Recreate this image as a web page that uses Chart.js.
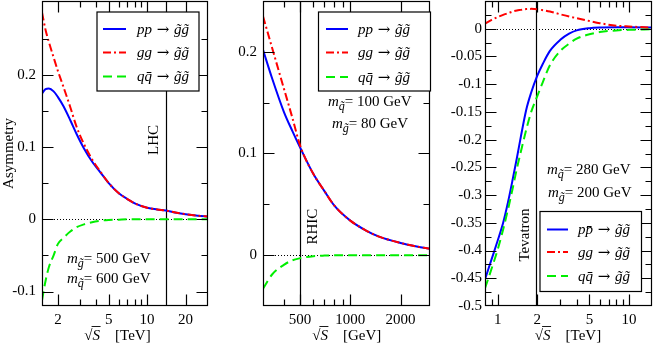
<!DOCTYPE html>
<html><head><meta charset="utf-8">
<script src="https://cdn.jsdelivr.net/npm/chart.js@4"></script>
<style>
html,body{margin:0;padding:0;background:#fff;width:654px;height:346px;overflow:hidden}
canvas{position:absolute;top:0}
</style></head><body>
<canvas id="c1" style="left:0px" width="215" height="346"></canvas>
<canvas id="c2" style="left:215px" width="220" height="346"></canvas>
<canvas id="c3" style="left:435px" width="219" height="346"></canvas>
<script>
// ---------- DATA ----------
// LHC panel (sqrt(S) in TeV)
const lhcSqrtS = [1.5,1.6,1.7,1.85,2,2.2,2.5,2.8,3.2,3.7,4.3,5,6,7,8,10,12,14,17,20,25,30];
const lhcPP    = [0.174,0.180,0.181,0.177,0.169,0.157,0.137,0.118,0.098,0.080,0.065,0.050,0.036,0.028,0.022,0.016,0.0135,0.0122,0.009,0.007,0.005,0.004];
const lhcGG    = [0.286,0.262,0.245,0.224,0.205,0.184,0.155,0.128,0.104,0.083,0.066,0.050,0.036,0.028,0.022,0.016,0.0135,0.0122,0.009,0.007,0.005,0.004];
const lhcQQ    = [-0.112,-0.085,-0.066,-0.050,-0.034,-0.026,-0.017,-0.011,-0.007,-0.004,-0.002,-0.001,-0.0005,0,0,0,0,0,0,0,0,0];
const lhcXTicks = [2,5,10,20];
const lhcXMinor = [3,4,6,7,8,9];
const lhcYTicks = [-0.1,0,0.1,0.2];
const lhcYLabels = ['-0.1','0','0.1','0.2'];
const lhcYMinor = [-0.05,0.05,0.15,0.25];

// RHIC panel (sqrt(S) in GeV)
const rhicSqrtS = [300,340,400,450,500,600,700,800,1000,1250,1500,2000,2500,3000];
const rhicPP    = [0.202,0.174,0.141,0.122,0.106,0.080,0.063,0.049,0.034,0.024,0.018,0.012,0.0085,0.0062];
const rhicGG    = [0.235,0.204,0.164,0.135,0.108,0.080,0.063,0.049,0.034,0.024,0.018,0.012,0.0085,0.0062];
const rhicQQ    = [-0.033,-0.019,-0.0095,-0.005,-0.003,-0.001,-0.0004,-0.0002,0,0,0,0,0,0];
const rhicXTicks = [500,1000,2000];
const rhicXMinor = [400,600,700,800,900];
const rhicYTicks = [0,0.1,0.2];
const rhicYLabels = ['0','0.1','0.2'];
const rhicYMinor = [0.05,0.15];

// Tevatron panel (sqrt(S) in TeV)
const tevSqrtS = [0.8,0.9,1.0,1.1,1.2,1.3,1.4,1.5,1.65,1.8,2.0,2.2,2.5,3.0,3.5,4.0,5.0,6.0,8.0,10,15];
const tevPP    = [-0.452,-0.415,-0.382,-0.350,-0.312,-0.272,-0.233,-0.195,-0.146,-0.115,-0.085,-0.064,-0.040,-0.020,-0.009,-0.003,0.001,0.0022,0.0026,0.0025,0.0022];
const tevGG    = [0.009,0.016,0.021,0.025,0.028,0.031,0.033,0.034,0.0355,0.0358,0.035,0.0335,0.031,0.026,0.022,0.019,0.014,0.010,0.0055,0.004,0.002];
const tevQQ    = [-0.468,-0.432,-0.398,-0.362,-0.325,-0.288,-0.252,-0.222,-0.182,-0.150,-0.122,-0.097,-0.066,-0.040,-0.027,-0.018,-0.010,-0.006,-0.003,-0.002,-0.001];
const tevXTicks = [1,2,5,10];
const tevXMinor = [0.9,3,4,6,7,8,9];
const tevYTicks = [0,-0.05,-0.1,-0.15,-0.2,-0.25,-0.3,-0.35,-0.4,-0.45,-0.5];
const tevYLabels = ['0','-0.05','-0.1','-0.15','-0.2','-0.25','-0.3','-0.35','-0.4','-0.45','-0.5'];
const tevYMinor = [0.025,-0.025,-0.075,-0.125,-0.175,-0.225,-0.275,-0.325,-0.375,-0.425,-0.475];

const colliders = {LHC:14, RHIC:500, Tevatron:1.96};

// ---------- STYLE ----------
const SERIF='"Liberation Serif","Times New Roman",serif';
const F15='15px '+SERIF, FI15='italic 15px '+SERIF, FSUB='italic 12px '+SERIF;
const FARROW='15px "DejaVu Serif",serif';
const BLUE='#0000ff', RED='#ff0000', GREEN='#00ee00';
const DASH_RED=[8,3,2,3], DASH_GREEN=[9,5];

function rich(ctx, parts, x, y, align){
  let w=0;
  for(const p of parts){ctx.font=p[1]; w+=ctx.measureText(p[0]).width;}
  let cx = align==='center'? x-w/2 : x;
  const start=cx;
  for(const p of parts){ctx.font=p[1]; ctx.fillText(p[0],cx,y+(p[2]||0)); cx+=ctx.measureText(p[0]).width;}
  return {start, end:cx};
}

function makeDecor(p){
  return {
    id:'decor'+p.id,
    beforeDatasetsDraw(chart){
      const {ctx, chartArea:ca, scales:{x,y}} = chart;
      ctx.save();
      ctx.strokeStyle='#000'; ctx.lineWidth=1;
      const y0=Math.round(y.getPixelForValue(0))+0.5;
      ctx.setLineDash([1,2]);
      ctx.beginPath(); ctx.moveTo(ca.left,y0); ctx.lineTo(ca.right,y0); ctx.stroke();
      ctx.setLineDash([]);
      const xc=Math.round(x.getPixelForValue(p.collider.value))+0.5;
      ctx.lineWidth=1.2;
      ctx.beginPath(); ctx.moveTo(xc,ca.top); ctx.lineTo(xc,ca.bottom); ctx.stroke();
      ctx.restore();
    },
    afterDraw(chart){
      const {ctx, chartArea:ca, scales:{x,y}} = chart;
      const o=p.left;
      ctx.save();
      // frame and inward ticks
      ctx.setLineDash([]);
      ctx.strokeStyle='#000'; ctx.lineWidth=1.2;
      const L=Math.round(ca.left)+0.5, R=Math.round(ca.right)-0.5, T=Math.round(ca.top)+0.5, B=Math.round(ca.bottom)-0.5;
      ctx.strokeRect(L,T,R-L,B-T);
      ctx.beginPath();
      const xt=(vals,len)=>{for(const v of vals){const px=Math.round(x.getPixelForValue(v))+0.5; if(px<L||px>R)continue; ctx.moveTo(px,B); ctx.lineTo(px,B-len); ctx.moveTo(px,T); ctx.lineTo(px,T+len);}};
      const yt=(vals,len)=>{for(const v of vals){const py=Math.round(y.getPixelForValue(v))+0.5; if(py<T||py>B)continue; ctx.moveTo(L,py); ctx.lineTo(L+len,py); ctx.moveTo(R,py); ctx.lineTo(R-len,py);}};
      xt(p.xTicks,11); xt(p.xMinor,6); yt(p.yTicks,11); yt(p.yMinor,6);
      ctx.stroke();

      ctx.fillStyle='#000'; ctx.textBaseline='alphabetic'; ctx.textAlign='left';
      // legend
      const lg=p.legend, b=lg.box;
      ctx.fillStyle='#fff'; ctx.fillRect(b[0]-o,b[1],b[2]-b[0],b[3]-b[1]);
      ctx.strokeStyle='#000'; ctx.lineWidth=1.2; ctx.strokeRect(b[0]-o,b[1],b[2]-b[0],b[3]-b[1]);
      lg.items.forEach((it,i)=>{
        const ry=lg.rows[i];
        ctx.strokeStyle=it.color; ctx.lineWidth=2; ctx.setLineDash(it.dash||[]);
        ctx.beginPath(); ctx.moveTo(lg.line[0]-o,ry); ctx.lineTo(lg.line[1]-o,ry); ctx.stroke();
        ctx.setLineDash([]);
        ctx.fillStyle='#000';
        rich(ctx,it.parts,lg.textX-o,ry+4.5);
      });
      // mass notes
      for(const n of p.notes){ rich(ctx,[['m',FI15],[n.sub,FSUB,4],['= '+n.val+' GeV',F15]],n.x-o,n.y); }
      // collider label
      ctx.save();
      ctx.translate(p.collider.lx-o,p.collider.ly); ctx.rotate(-Math.PI/2);
      ctx.font=F15; ctx.textAlign='center'; ctx.textBaseline='middle';
      ctx.fillText(p.collider.label,0,0);
      ctx.restore();
      // x title
      const r=rich(ctx,[['\u221A',F15],['S',FI15],['    ['+p.unit+']',F15]],p.xTitle.cx-o,p.xTitle.y,'center');
      ctx.font=F15; const sw=ctx.measureText('\u221A').width; ctx.font=FI15; const ssw=ctx.measureText('S').width;
      ctx.strokeStyle='#000'; ctx.lineWidth=0.9;
      ctx.beginPath(); ctx.moveTo(r.start+sw-1,p.xTitle.y-13.5); ctx.lineTo(r.start+sw+ssw+0.5,p.xTitle.y-13.5); ctx.stroke();
      // y title
      if(p.yTitle){
        ctx.save(); ctx.translate(p.yTitle.x-o,p.yTitle.y); ctx.rotate(-Math.PI/2);
        ctx.font=F15; ctx.textAlign='center'; ctx.textBaseline='middle'; ctx.fillText(p.yTitle.text,0,0); ctx.restore();
      }
      ctx.restore();
    }
  };
}

const arrow=' \u2192 ', gg2='g\u0303g\u0303';
function legendItems(first){
  return [
    {color:BLUE, dash:[], parts:[[first,FI15],[arrow,FARROW],[gg2,FI15]]},
    {color:RED, dash:DASH_RED, parts:[['gg',FI15],[arrow,FARROW],[gg2,FI15]]},
    {color:GREEN, dash:DASH_GREEN, parts:[['qq\u0304',FI15],[arrow,FARROW],[gg2,FI15]]}
  ];
}

function build(p){
  const pts=(ys)=>p.xs.map((v,i)=>({x:v,y:ys[i]}));
  const ds=(ys,color,dash,order,label)=>({label,data:pts(ys),borderColor:color,borderWidth:2,borderDash:dash,pointRadius:0,fill:false,cubicInterpolationMode:'monotone',order});
  new Chart(document.getElementById(p.id),{
    type:'line',
    data:{datasets:[ds(p.pp,BLUE,[],3,'pp'),ds(p.gg,RED,DASH_RED,1,'gg'),ds(p.qq,GREEN,DASH_GREEN,2,'qq')]},
    options:{
      responsive:false, animation:false, devicePixelRatio:1,
      layout:{padding:{top:1,right:p.padRight,left:0,bottom:0}},
      plugins:{legend:{display:false},tooltip:{enabled:false}},
      scales:{
        x:{type:'logarithmic',min:p.xMin,max:p.xMax,
           grid:{display:false,drawTicks:false},border:{display:false},
           afterBuildTicks:s=>{s.ticks=p.xTicks.map(v=>({value:v}));},
           afterFit:s=>{s.height=40; s.paddingLeft=0; s.paddingRight=0;},
           ticks:{autoSkip:false,maxRotation:0,padding:5,color:'#000',font:{family:SERIF,size:15},
                  callback:(v,i)=>String(p.xTicks[i])}},
        y:{type:'linear',min:p.yMin,max:p.yMax,
           grid:{display:false,drawTicks:false},border:{display:false},
           afterBuildTicks:s=>{s.ticks=p.yTicks.map(v=>({value:v}));},
           afterFit:s=>{s.width=p.yWidth; s.paddingTop=0; s.paddingBottom=0;},
           ticks:{autoSkip:false,padding:p.yPad,color:'#000',font:{family:SERIF,size:15},
                  callback:(v,i)=>p.yLabels[i]}}
      }
    },
    plugins:[makeDecor(p)]
  });
}

build({id:'c1',left:0,yWidth:42,padRight:7,yPad:6,
  xs:lhcSqrtS,pp:lhcPP,gg:lhcGG,qq:lhcQQ,xMin:1.5,xMax:30,yMin:-0.12,yMax:0.302,
  xTicks:lhcXTicks,xMinor:lhcXMinor,yTicks:lhcYTicks,yLabels:lhcYLabels,yMinor:lhcYMinor,
  collider:{value:colliders.LHC,label:'LHC',lx:154,ly:140},
  legend:{box:[97,12,199,91],line:[103,126],textX:137,rows:[29,52.5,76.5],items:legendItems('pp')},
  notes:[{sub:'g\u0303',val:'500',x:67,y:262.5},{sub:'q\u0303',val:'600',x:67,y:283}],
  unit:'TeV',xTitle:{cx:117.5,y:340},yTitle:{text:'Asymmetry',x:9,y:153.5}});

build({id:'c2',left:215,yWidth:48,padRight:5,yPad:6,
  xs:rhicSqrtS,pp:rhicPP,gg:rhicGG,qq:rhicQQ,xMin:300,xMax:3000,yMin:-0.05,yMax:0.25,
  xTicks:rhicXTicks,xMinor:rhicXMinor,yTicks:rhicYTicks,yLabels:rhicYLabels,yMinor:rhicYMinor,
  collider:{value:colliders.RHIC,label:'RHIC',lx:313.3,ly:226.7},
  legend:{box:[318.5,12,430.5,91],line:[326,348],textX:358,rows:[29,52.5,77],items:legendItems('pp')},
  notes:[{sub:'q\u0303',val:'100',x:328,y:106},{sub:'g\u0303',val:'80',x:332,y:128}],
  unit:'GeV',xTitle:{cx:346.7,y:340}});

build({id:'c3',left:435,yWidth:50,padRight:2,yPad:3,
  xs:tevSqrtS,pp:tevPP,gg:tevGG,qq:tevQQ,xMin:0.8,xMax:15,yMin:-0.5,yMax:0.05,
  xTicks:tevXTicks,xMinor:tevXMinor,yTicks:tevYTicks,yLabels:tevYLabels,yMinor:tevYMinor,
  collider:{value:colliders.Tevatron,label:'Tevatron',lx:525,ly:235},
  legend:{box:[540,211.5,641.5,291.5],line:[547,568],textX:578,rows:[229.5,252,276],items:legendItems('pp\u0304')},
  notes:[{sub:'q\u0303',val:'280',x:547,y:174},{sub:'g\u0303',val:'200',x:548,y:196.5}],
  unit:'TeV',xTitle:{cx:568,y:340}});
</script>
</body></html>
